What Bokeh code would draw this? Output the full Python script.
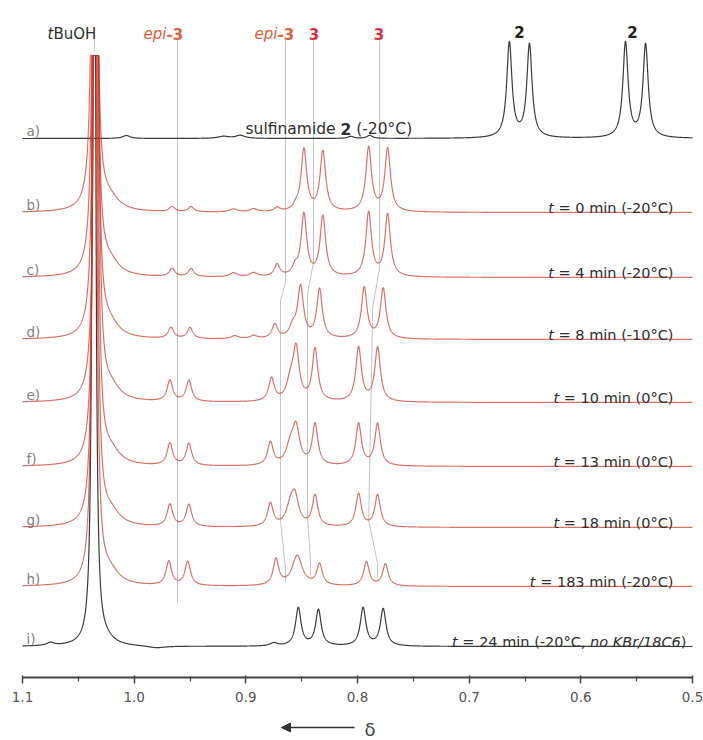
import numpy as np
from bokeh.plotting import figure
from bokeh.models import (Range1d, FixedTicker, PrintfTickFormatter, ColumnDataSource,
                          Arrow, NormalHead)
from bokeh.core.properties import value
from bokeh.embed import file_html
from bokeh.resources import INLINE

# ---------------- data ----------------
row_labels = ["a)", "b)", "c)", "d)", "e)", "f)", "g)", "h)", "i)"]
row_offsets = [138, 212, 277, 339, 402, 466, 527, 586, 646]      # stacking offset of each spectrum
row_times = ["0", "4", "8", "10", "13", "18", "183", "24"]
row_temps = ["-20°C", "-20°C", "-10°C", "0°C", "0°C", "0°C", "-20°C", "-20°C"]
row_colors = ["#3a3a3a", "#cf3522", "#cf3522", "#cf3522", "#cf3522",
              "#cf3522", "#cf3522", "#cf3522", "#3a3a3a"]
row_clipped = [False, True, True, True, True, True, True, True, True]

# peak tables: (shift / ppm, height, half width / ppm)
peaks_a = [(0.664, 95, 0.0028), (0.646, 93, 0.0028), (0.560, 95, 0.0028), (0.542, 93, 0.0028),
           (1.007, 3, 0.004), (0.920, 2, 0.006), (0.905, 3, 0.005), (0.806, 2, 0.003), (0.789, 3, 0.003)]
peaks_b = [(1.0355, 1300, 0.0014), (1.022, 12, 0.010),
           (0.966, 5, 0.003), (0.949, 5, 0.003), (0.911, 3, 0.004), (0.893, 3, 0.004),
           (0.872, 4, 0.003), (0.855, 4, 0.003),
           (0.848, 62, 0.003), (0.831, 60, 0.003), (0.790, 64, 0.003), (0.773, 63, 0.003)]
peaks_c = [(1.035, 1300, 0.0014), (1.022, 13, 0.010),
           (0.966, 8, 0.003), (0.949, 8, 0.003), (0.911, 4, 0.004), (0.893, 4, 0.004),
           (0.872, 12, 0.003), (0.856, 8, 0.003),
           (0.848, 62, 0.003), (0.831, 60, 0.003), (0.790, 64, 0.003), (0.773, 62, 0.003)]
peaks_d = [(1.0345, 1300, 0.0014), (1.022, 13, 0.010),
           (0.967, 11, 0.003), (0.950, 11, 0.003), (0.910, 3, 0.004), (0.893, 3, 0.004),
           (0.874, 14, 0.003), (0.858, 10, 0.0035),
           (0.851, 51, 0.0032), (0.834, 49, 0.003), (0.794, 51, 0.003), (0.777, 50, 0.003)]
peaks_e = [(1.034, 1300, 0.0014), (1.021, 13, 0.010),
           (0.968, 21, 0.003), (0.951, 21, 0.003),
           (0.877, 23, 0.003), (0.860, 18, 0.004),
           (0.855, 50, 0.0033), (0.838, 52, 0.003), (0.799, 54, 0.003), (0.782, 54, 0.003)]
peaks_f = [(1.0345, 1300, 0.0014), (1.021, 13, 0.010),
           (0.968, 22, 0.003), (0.951, 22, 0.003),
           (0.878, 23, 0.003), (0.860, 18, 0.0045),
           (0.855, 35, 0.0038), (0.838, 41, 0.003), (0.799, 42, 0.003), (0.782, 42, 0.003)]
peaks_g = [(1.035, 1300, 0.0014), (1.021, 13, 0.010),
           (0.968, 22, 0.003), (0.951, 22, 0.003),
           (0.878, 23, 0.003), (0.860, 18, 0.0045),
           (0.856, 26, 0.0040), (0.838, 31, 0.003), (0.799, 33, 0.003), (0.782, 32, 0.003)]
peaks_h = [(1.0355, 1300, 0.0014), (1.022, 13, 0.010),
           (0.969, 24, 0.003), (0.952, 24, 0.003),
           (0.873, 26, 0.003), (0.854, 30, 0.0055),
           (0.834, 21, 0.003), (0.792, 24, 0.003), (0.775, 22, 0.003)]
peaks_i = [(1.036, 1700, 0.0011), (1.025, 5, 0.008), (1.075, 3, 0.004), (0.980, -2, 0.010),
           (0.875, 3, 0.004),
           (0.853, 38, 0.003), (0.835, 36, 0.003), (0.795, 38, 0.003), (0.777, 37, 0.003)]
peak_tables = [peaks_a, peaks_b, peaks_c, peaks_d, peaks_e, peaks_f, peaks_g, peaks_h, peaks_i]

# guide lines marking the signals (ppm, y)
guide_tbuoh = ([1.0355, 1.0355], [38, 50])
guide_epi1 = ([0.9612, 0.9612], [40, 602])
guide_epi2 = ([0.8645, 0.8645, 0.869, 0.869, 0.8645, 0.8645], [40, 282, 300, 520, 568, 582])
guide_3a = ([0.8394, 0.8394, 0.8448, 0.8448, 0.8421, 0.8421], [40, 262, 293, 517, 560, 575])
guide_3b = ([0.7802, 0.7802, 0.7864, 0.7900, 0.7820, 0.7820], [40, 267, 307, 520, 563, 575])

x_ticks = [1.1, 1.0, 0.9, 0.8, 0.7, 0.6, 0.5]
x_minor = [1.05, 0.95, 0.85, 0.75, 0.65, 0.55]

# ---------------- figure ----------------
W, H = 703, 740
LEFT, RIGHT = 22, 11          # pixel position of 1.1 ppm and margin after 0.5 ppm
X0, X1 = 1.1, 0.5
SCALE = (X0 - X1) / (W - LEFT - RIGHT)    # ppm per pixel
XL, XR = X0 + LEFT * SCALE, X1 - RIGHT * SCALE
CLIP_TOP = 55
AXIS_Y = 677


def px2ppm(px):
    return XL - px * SCALE


p = figure(width=W, height=H, x_range=Range1d(XL, XR), y_range=Range1d(H, 0),
           output_backend="svg", toolbar_location=None,
           min_border_left=0, min_border_right=0, min_border_top=0, min_border_bottom=0)
p.grid.visible = False
p.yaxis.visible = False
p.outline_line_color = None
p.background_fill_color = "white"

ax = p.xaxis[0]
ax.fixed_location = AXIS_Y
ax.bounds = (X1, X0)
ax.ticker = FixedTicker(ticks=x_ticks, minor_ticks=x_minor)
ax.formatter = PrintfTickFormatter(format="%.1f")
ax.axis_line_color = "#444444"
ax.axis_line_width = 2
ax.major_tick_line_color = "#444444"
ax.major_tick_line_width = 1.5
ax.major_tick_in = 2
ax.major_tick_out = 6
ax.minor_tick_line_color = "#444444"
ax.minor_tick_line_width = 1.2
ax.minor_tick_in = 1
ax.minor_tick_out = 4
ax.major_label_text_font = "DejaVu Sans"
ax.major_label_text_font_size = "13.5px"
ax.major_label_text_color = "#555555"
ax.major_label_standoff = 8

# guides
for gx, gy in [guide_tbuoh, guide_epi1, guide_epi2, guide_3a, guide_3b]:
    p.line(gx, gy, line_color="#c4c4c4", line_width=1)

# spectra
ppm = np.linspace(X0, X1, 4001)


def spectrum(peaks):
    s = np.zeros_like(ppm)
    for c, h, w in peaks:
        s += h / (1.0 + ((ppm - c) / w) ** 2)
    return s


order = [0, 8, 1, 2, 3, 4, 5, 6, 7]
for k in order:
    inten = spectrum(peak_tables[k])
    off = row_offsets[k]
    if row_clipped[k]:
        inten = np.minimum(inten, off - CLIP_TOP)
    alpha = 0.7 if row_colors[k] != "#3a3a3a" else 1.0
    p.line(ppm, off - inten, line_color=row_colors[k], line_width=1.2, line_alpha=alpha)

# ---------------- texts ----------------
REG = {' ': 318, '(': 390, ')': 390, '-': 361, ',': 318, '/': 337, '=': 838, '°': 500,
       'B': 686, 'C': 698, 'H': 752, 'K': 656, 'O': 787, 'a': 613, 'd': 635, 'e': 615,
       'f': 352, 'i': 278, 'l': 278, 'm': 974, 'n': 634, 'o': 612, 'p': 635, 'r': 411,
       's': 521, 't': 392, 'u': 634, 'δ': 612}
BOLD = {' ': 348, '-': 415, '(': 457, ')': 457}


def width(s, style, size):
    tot = 0
    for ch in s:
        if "bold" in style:
            tot += 696 if ch.isdigit() else BOLD.get(ch, REG.get(ch, 650) * 1.1)
        else:
            tot += 636 if ch.isdigit() else REG.get(ch, 620)
    return tot * size / 1000.0


T = dict(x=[], y=[], text=[], style=[], color=[], size=[])


def put(runs, x_px, y_px, size, color, align="left"):
    total = sum(width(t, st, size) for t, st in runs)
    if align == "right":
        x = x_px - total
    elif align == "center":
        x = x_px - total / 2
    else:
        x = x_px
    for t, st in runs:
        lead = len(t) - len(t.lstrip(' '))
        s = t.strip(' ')
        if s:
            T["x"].append(px2ppm(x + width(' ' * lead, st, size)))
            T["y"].append(y_px)
            T["text"].append(s)
            T["style"].append(st)
            T["color"].append(color)
            T["size"].append(f"{size}px")
        x += width(t, st, size)


RED_EPI = "#e0603c"
RED_3 = "#d9303c"
DARK = "#2e2e2e"

# top signal labels
put([("t", "italic"), ("BuOH", "normal")], 47, 33, 15, DARK)
put([("epi", "italic"), ("-3", "bold")], 143, 33, 15, RED_EPI)
put([("epi", "italic"), ("-3", "bold")], 254, 33, 15, RED_EPI)
put([("3", "bold")], 313.5, 33, 15, RED_3, "center")
put([("3", "bold")], 378.5, 33, 15, RED_3, "center")
put([("2", "bold")], 519, 31, 15, "#1e1e1e", "center")
put([("2", "bold")], 632, 31, 15, "#1e1e1e", "center")

# row labels
for k, lab in enumerate(row_labels):
    put([(lab, "normal")], 26, row_offsets[k] - 8, 13.5, "#808080")

# right-hand annotations
put([("sulfinamide ", "normal"), ("2", "bold"), (" (-20°C)", "normal")], 245, 128, 15.5, DARK)
for k in range(1, 8):
    put([("t", "italic"), (f" = {row_times[k - 1]} min ({row_temps[k - 1]})", "normal")],
        673, row_offsets[k] - 5, 14.5, DARK, "right")
put([("t", "italic"), (f" = {row_times[7]} min ({row_temps[7]}, ", "normal"),
     ("no KBr/18C6", "italic"), (")", "normal")], 686, row_offsets[8] - 5, 14.5, DARK, "right")

# axis direction symbol
put([("δ", "normal")], 364, 729, 18, "#444444")

src = ColumnDataSource(T)
p.text(x="x", y="y", text="text", source=src, text_font=value("DejaVu Sans"),
       text_font_size="size", text_font_style="style", text_color="color",
       text_align="left", text_baseline="alphabetic")

# direction arrow
p.add_layout(Arrow(end=NormalHead(size=9, fill_color="#333333", line_color="#333333"),
                   x_start=px2ppm(354), y_start=727, x_end=px2ppm(281), y_end=727,
                   line_color="#333333", line_width=1.5))

open("out.html", "w").write(file_html(p, INLINE))
